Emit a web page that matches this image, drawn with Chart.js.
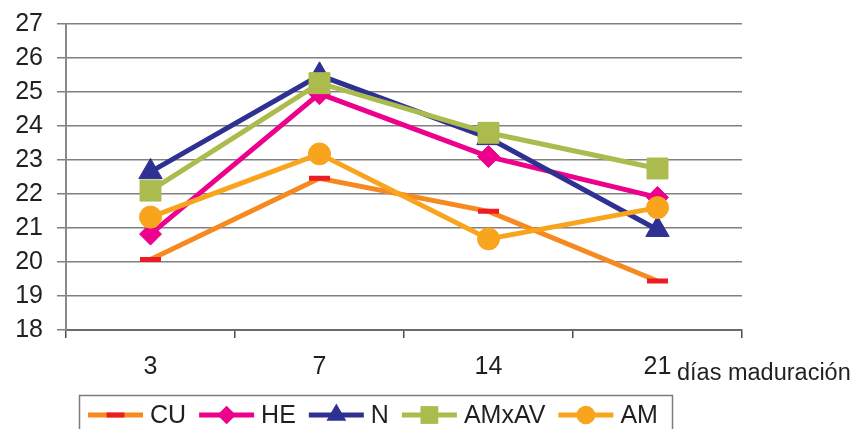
<!DOCTYPE html>
<html>
<head>
<meta charset="utf-8">
<script src="https://cdn.jsdelivr.net/npm/chart.js@4/dist/chart.umd.min.js"></script>
<style>
html,body{margin:0;padding:0;background:#ffffff;}
#wrap{width:857px;height:429px;position:relative;}
</style>
</head>
<body>
<div id="wrap"><canvas id="c" width="857" height="429"></canvas></div>
<script>
// ---- data ----
const categories = ['3', '7', '14', '21'];
const xAxisTitle = 'días maduración';
const yMin = 18;
const yMax = 27;
const yStep = 1;

const cu    = [20.07, 22.46, 21.49, 19.44];
const he    = [20.82, 24.95, 23.10, 21.90];
const n     = [22.65, 25.49, 23.65, 20.95];
const amxav = [22.10, 25.26, 23.80, 22.75];
const am    = [21.32, 23.18, 20.68, 21.60];

const seriesNames = ['CU', 'HE', 'N', 'AMxAV', 'AM'];

// ---- styles ----
const FONT = '"Liberation Sans", Arial, sans-serif';
const TEXT = '#231F20';

const styles = [
  {line: '#F6891F', point: '#ED1C24', style: 'line',     radius: 10.5, pbw: 5},
  {line: '#EC008C', point: '#EC008C', style: 'rectRot',  radius: 11,   pbw: 1},
  {line: '#2E3192', point: '#2E3192', style: 'triangle', radius: 13.5, pbw: 1},
  {line: '#ABBB4D', point: '#ABBB4D', style: 'rect',     radius: 14.8, pbw: 1},
  {line: '#F8A51D', point: '#F8A51D', style: 'circle',   radius: 11,   pbw: 1}
];
const seriesData = [cu, he, n, amxav, am];

const datasets = seriesNames.map((name, i) => {
  const s = styles[i];
  return {
    label: name,
    data: seriesData[i],
    borderColor: s.line,
    backgroundColor: s.point,
    borderWidth: 5,
    tension: 0,
    pointStyle: s.style,
    pointRadius: s.radius,
    pointBackgroundColor: s.point,
    pointBorderColor: s.point,
    pointBorderWidth: s.pbw,
    order: seriesNames.length - i
  };
});

function drawMarker(ctx, ds, x, y, k) {
  const r = ds.pointRadius * k;
  ctx.save();
  ctx.fillStyle = ds.pointBackgroundColor;
  ctx.strokeStyle = ds.pointBorderColor;
  ctx.beginPath();
  switch (ds.pointStyle) {
    case 'line':
      ctx.lineWidth = ds.pointBorderWidth;
      ctx.moveTo(x - r, y); ctx.lineTo(x + r, y); ctx.stroke();
      ctx.restore();
      return;
    case 'rectRot':
      ctx.moveTo(x, y - r); ctx.lineTo(x + r, y); ctx.lineTo(x, y + r); ctx.lineTo(x - r, y); ctx.closePath();
      break;
    case 'triangle':
      ctx.moveTo(x, y - r);
      ctx.lineTo(x + r * Math.sin(2 * Math.PI / 3), y - r * Math.cos(2 * Math.PI / 3));
      ctx.lineTo(x + r * Math.sin(4 * Math.PI / 3), y - r * Math.cos(4 * Math.PI / 3));
      ctx.closePath();
      break;
    case 'rect': {
      const h = r * Math.SQRT1_2;
      ctx.rect(x - h, y - h, 2 * h, 2 * h);
      break;
    }
    default:
      ctx.arc(x, y, r, 0, Math.PI * 2);
  }
  ctx.fill();
  ctx.restore();
}

const decorPlugin = {
  id: 'decor',
  afterDraw(chart) {
    const ctx = chart.ctx;
    ctx.save();
    // legend box
    ctx.strokeStyle = '#7d7d7d';
    ctx.lineWidth = 1.5;
    ctx.strokeRect(79.5, 395.5, 593, 60);
    ctx.font = '25px ' + FONT;
    ctx.textBaseline = 'middle';
    ctx.textAlign = 'left';
    let x = 88;
    const y = 415;
    chart.data.datasets.forEach(ds => {
      ctx.strokeStyle = ds.borderColor;
      ctx.lineWidth = 5;
      ctx.lineCap = 'butt';
      ctx.beginPath();
      ctx.moveTo(x, y);
      ctx.lineTo(x + 55, y);
      ctx.stroke();
      drawMarker(ctx, ds, x + 27.5, y, 0.85);
      ctx.fillStyle = TEXT;
      ctx.fillText(ds.label, x + 62, y + 1);
      x += 62 + ctx.measureText(ds.label).width + 13;
    });
    // x axis title
    ctx.font = '23.5px ' + FONT;
    ctx.fillStyle = TEXT;
    ctx.textAlign = 'left';
    ctx.fillText(xAxisTitle, 677, 374);
    ctx.restore();
  }
};

new Chart(document.getElementById('c'), {
  type: 'line',
  data: {labels: categories, datasets: datasets},
  plugins: [decorPlugin],
  options: {
    responsive: false,
    devicePixelRatio: 1,
    animation: false,
    events: [],
    layout: {autoPadding: false, padding: {top: 24, right: 115, bottom: 0, left: 0}},
    plugins: {legend: {display: false}, tooltip: {enabled: false}},
    scales: {
      x: {
        offset: true,
        grid: {
          display: true,
          drawOnChartArea: false,
          drawTicks: true,
          tickLength: 8,
          offset: true,
          color: '#4d4d4d',
          lineWidth: 1.5
        },
        border: {display: true, color: '#6b6b6b', width: 2},
        ticks: {
          color: TEXT,
          font: {family: FONT, size: 25},
          padding: 14,
          maxRotation: 0
        },
        afterFit(scale) {
          scale.height = 99;
          scale.paddingLeft = 0;
          scale.paddingRight = 0;
        }
      },
      y: {
        min: yMin,
        max: yMax,
        ticks: {
          stepSize: yStep,
          color: TEXT,
          font: {family: FONT, size: 25},
          padding: 14
        },
        grid: {
          color: '#808080',
          lineWidth: 1.5,
          tickLength: 9,
          drawTicks: true
        },
        border: {display: true, color: '#8a8a8a', width: 2},
        afterFit(scale) {
          scale.width = 66;
          scale.paddingTop = 0;
          scale.paddingBottom = 0;
        }
      }
    }
  }
});
</script>
</body>
</html>
